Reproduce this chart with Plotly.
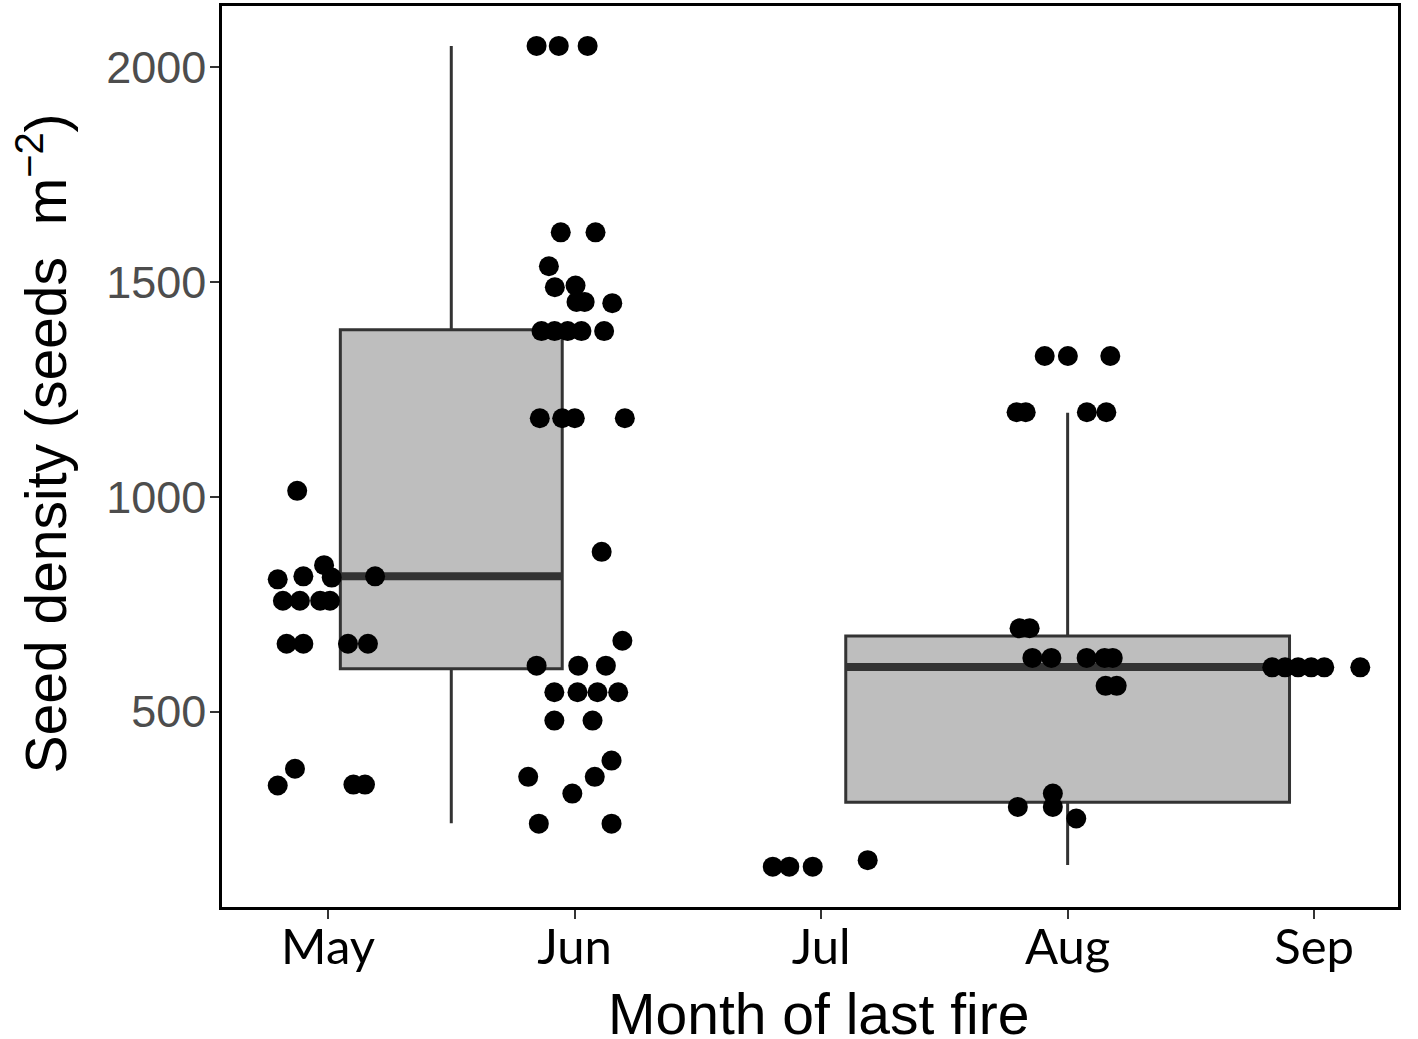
import plotly.graph_objects as go

# axis categories
months = ["May", "Jun", "Jul", "Aug", "Sep"]
month_pos = [1, 2, 3, 4, 5]
y_ticks = [500, 1000, 1500, 2000]

# box summaries (position on the month axis, quartiles, whisker ends)
box_pos = [1.5, 4.0]
box_q1 = [600, 289]
box_median = [815, 604]
box_q3 = [1389, 676]
box_lower = [240, 143]
box_upper = [2050, 1196]

# jittered observations per month
may_x = [0.875, 0.984, 1.015, 0.796, 0.900, 1.191, 0.817, 0.886, 0.968, 1.008,
         0.832, 0.900, 1.081, 1.162, 0.796, 0.866, 1.103, 1.150]
may_y = [1014, 841, 812, 808, 815, 815, 758, 758, 758, 758,
         658, 658, 658, 658, 328, 367, 330, 330]

jun_x = [1.846, 1.936, 2.053, 1.944, 2.085, 1.896, 1.920, 2.004, 2.008, 2.041,
         2.153, 1.866, 1.919, 1.972, 2.028, 2.120, 1.859, 1.950, 2.001, 2.204,
         2.110, 2.194, 1.846, 2.015, 2.127, 1.918, 2.012, 2.093, 2.177, 1.918,
         2.073, 2.150, 1.812, 2.082, 1.991, 1.855, 2.150]
jun_y = [2050, 2050, 2050, 1616, 1616, 1537, 1488, 1492, 1454, 1454,
         1451, 1386, 1386, 1386, 1386, 1386, 1183, 1183, 1183, 1183,
         872, 665, 607, 607, 607, 545, 545, 545, 545, 479,
         479, 386, 348, 348, 309, 239, 239]

jul_x = [2.804, 2.871, 2.966, 3.189]
jul_y = [139, 139, 139, 154]

aug_x = [3.907, 4.001, 4.173, 3.793, 3.830, 4.078, 4.157, 3.805, 3.846, 3.857,
         3.934, 4.077, 4.150, 4.183, 4.154, 4.199, 3.798, 3.940, 3.940, 4.035]
aug_y = [1328, 1328, 1328, 1197, 1197, 1197, 1197, 694, 694, 625,
         625, 625, 625, 625, 560, 560, 278, 309, 278, 251]

sep_x = [4.830, 4.882, 4.935, 4.988, 5.041, 5.187]
sep_y = [603, 603, 603, 603, 603, 603]

box_widths = [0.9, 1.8]
dark = "#333333"

fig = go.Figure()

for i in range(len(box_pos)):
    fig.add_trace(go.Box(
        x=[box_pos[i]], q1=[box_q1[i]], median=[box_median[i]], q3=[box_q3[i]],
        lowerfence=[box_lower[i]], upperfence=[box_upper[i]],
        width=box_widths[i], whiskerwidth=0,
        fillcolor="#bebebe", line=dict(color=dark, width=3),
        boxpoints=False, showlegend=False, hoverinfo="skip"))

# thicker median bars, like ggplot
med_x, med_y = [], []
for i in range(len(box_pos)):
    med_x += [box_pos[i] - box_widths[i] / 2, box_pos[i] + box_widths[i] / 2, None]
    med_y += [box_median[i], box_median[i], None]
fig.add_trace(go.Scatter(x=med_x, y=med_y, mode="lines",
                         line=dict(color=dark, width=8), showlegend=False,
                         hoverinfo="skip"))

all_x = may_x + jun_x + jul_x + aug_x + sep_x
all_y = may_y + jun_y + jul_y + aug_y + sep_y
fig.add_trace(go.Scatter(x=all_x, y=all_y, mode="markers",
                         marker=dict(color="black", size=20),
                         showlegend=False))

title_font = dict(family="Liberation Sans", size=57, color="black")

fig.update_layout(
    width=1418, height=1039,
    plot_bgcolor="white", paper_bgcolor="white",
    margin=dict(l=222, r=20, t=3, b=132),
    xaxis=dict(
        range=[0.57, 5.34], tickvals=month_pos, ticktext=months,
        showgrid=False, zeroline=False,
        showline=True, mirror=True, linecolor="black", linewidth=2.5,
        ticks="outside", ticklen=9, tickwidth=2, tickcolor=dark,
        ticklabelstandoff=-14,
        tickfont=dict(family="Lato", size=49, color="black"),
    ),
    yaxis=dict(
        range=[45, 2143], tickvals=y_ticks,
        showgrid=False, zeroline=False,
        showline=True, mirror=True, linecolor="black", linewidth=2.5,
        ticks="outside", ticklen=9, tickwidth=2, tickcolor=dark,
        ticklabelstandoff=-5,
        tickfont=dict(family="Liberation Sans", size=45, color="#4d4d4d"),
    ),
    annotations=[
        dict(text="Month of last fire", xref="paper", yref="paper",
             x=0.5, y=0, xanchor="center", yanchor="middle",
             xshift=8, yshift=-107, showarrow=False, font=title_font),
        dict(text="Seed density (seeds\u00a0\u00a0m<sup>\u22122</sup>)",
             xref="paper", yref="paper", x=0, y=0.5,
             xanchor="center", yanchor="middle", textangle=-90,
             xshift=-180, yshift=13, showarrow=False, font=title_font),
    ],
)

fig.write_html("out.html", config={"displayModeBar": False},
               post_script="document.body.style.margin='0';")
